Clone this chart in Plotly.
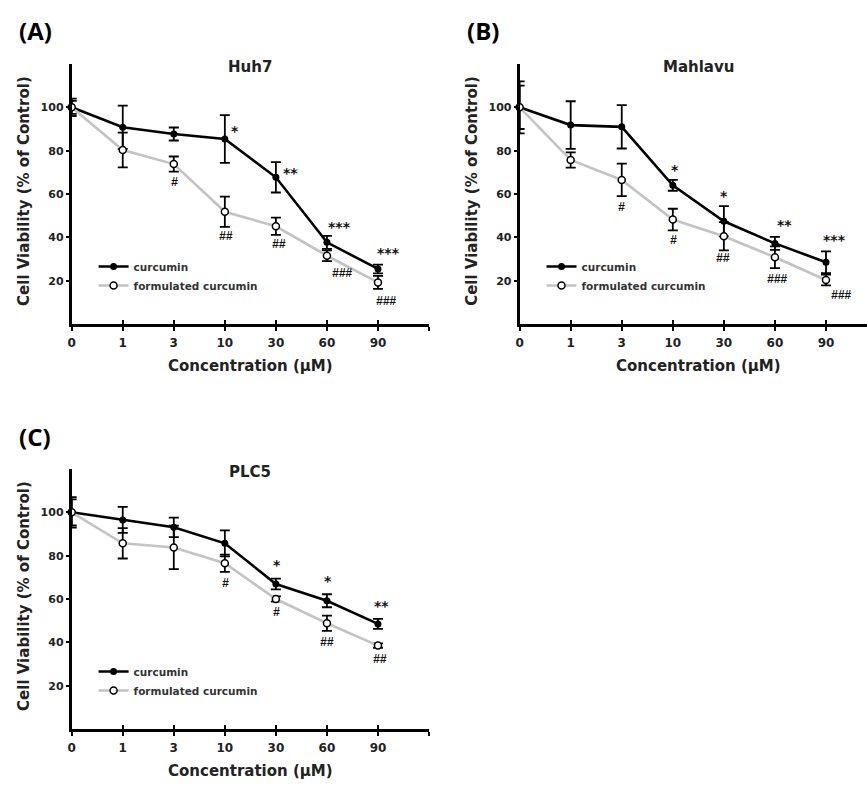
import plotly.graph_objects as go

W, H = 867, 787

conc_labels = ["0", "1", "3", "10", "30", "60", "90"]

huh7_cur = [100, 90.8, 87.7, 85.4, 67.7, 37.7, 25.4]
huh7_cur_err = [4, 10, 3, 11, 7, 3, 2]
huh7_form = [100, 80.3, 73.8, 51.8, 45.1, 31.5, 19.2]
huh7_form_err = [3, 8, 3.5, 7, 4, 2.5, 3]

mahlavu_cur = [100, 91.8, 91.0, 64.0, 47.4, 37.2, 28.5]
mahlavu_cur_err = [12, 11, 10, 2.5, 7, 3, 5]
mahlavu_form = [100, 75.7, 66.5, 48.2, 40.5, 30.8, 20.3]
mahlavu_form_err = [10, 3.5, 7.5, 5, 6.5, 5, 2.5]

plc5_cur = [100, 96.5, 93.1, 85.7, 66.9, 59.2, 48.5]
plc5_cur_err = [7, 6, 4.5, 6, 2.5, 3, 2.3]
plc5_form = [100, 85.7, 83.8, 76.5, 60.0, 48.8, 38.5]
plc5_form_err = [6, 7, 10, 4, 1.2, 3.5, 1]

# significance marks: (text, category position, y value)
huh7_marks_text = ["*", "**", "***", "***", "#", "##", "##", "###", "###"]
huh7_marks_x = [3.2, 4.28, 5.25, 6.2, 2.02, 3.03, 4.06, 5.29, 6.16]
huh7_marks_y = [89, 69.5, 45, 33, 65.4, 40.8, 37, 23.4, 10.8]

mahlavu_marks_text = ["*", "*", "**", "***", "#", "#", "##", "###", "###"]
mahlavu_marks_x = [3.04, 4.0, 5.19, 6.16, 2.0, 3.01, 3.99, 5.04, 6.29]
mahlavu_marks_y = [71, 59, 45.8, 39, 53.8, 38.8, 30.5, 20.8, 13.4]

plc5_marks_text = ["*", "*", "**", "#", "#", "##", "##"]
plc5_marks_x = [4.02, 5.03, 6.07, 3.02, 4.02, 5.01, 6.03]
plc5_marks_y = [75.8, 68.5, 56.9, 67.2, 53.8, 40, 32.3]

y_tick_vals = [20, 40, 60, 80, 100]
series_names = ["curcumin", "formulated curcumin"]
panel_titles = ["Huh7", "Mahlavu", "PLC5"]
panel_letters = ["(A)", "(B)", "(C)"]
y_title = "Cell Viability (% of Control)"
x_title = "Concentration (\u03bcM)"


def px(x):
    return x / W


def py(y):
    return 1 - y / H


FONT = "DejaVu Sans"
GRAY = "#c3c3c3"

fig = go.Figure()

panels = [
    dict(xl=68, xr=427, yt=64, yb=324, xmax=7.0),
    dict(xl=518, xr=867, yt=64, yb=324, xmax=(867 - 518) / 51.3),
    dict(xl=68, xr=427, yt=469, yb=729, xmax=7.0),
]

data = [
    (huh7_cur, huh7_cur_err, huh7_form, huh7_form_err, huh7_marks_text, huh7_marks_x, huh7_marks_y),
    (mahlavu_cur, mahlavu_cur_err, mahlavu_form, mahlavu_form_err, mahlavu_marks_text, mahlavu_marks_x, mahlavu_marks_y),
    (plc5_cur, plc5_cur_err, plc5_form, plc5_form_err, plc5_marks_text, plc5_marks_x, plc5_marks_y),
]

xidx = list(range(len(conc_labels)))
annotations = []

for i, (p, d) in enumerate(zip(panels, data)):
    n = i + 1
    xa = "x" if n == 1 else f"x{n}"
    ya = "y" if n == 1 else f"y{n}"
    lg = "legend" if n == 1 else f"legend{n}"
    cur, cur_err, form, form_err, mt, mx, my = d

    fig.add_trace(go.Scatter(
        x=xidx, y=cur, mode="lines+markers", name=series_names[0],
        line=dict(color="black", width=2.6),
        marker=dict(symbol="circle", size=7, color="black"),
        error_y=dict(type="data", array=cur_err, color="black", thickness=1.8, width=5),
        xaxis=xa, yaxis=ya, legend=lg, cliponaxis=False,
    ))
    fig.add_trace(go.Scatter(
        x=xidx, y=form, mode="lines+markers", name=series_names[1],
        line=dict(color=GRAY, width=2.6),
        marker=dict(symbol="circle", size=7, color="white", line=dict(color="black", width=1.5)),
        error_y=dict(type="data", array=form_err, color="black", thickness=1.8, width=5),
        xaxis=xa, yaxis=ya, legend=lg, cliponaxis=False,
    ))
    ox = f"x{n + 3}"
    fig.add_trace(go.Scatter(x=[None], y=[None], xaxis=ox, yaxis=ya, showlegend=False,
                             hoverinfo="skip"))

    xdom = [px(p["xl"]), min(1.0, px(p["xr"]))]
    ydom = [py(p["yb"]), py(p["yt"])]
    ticks_all = list(range(8))
    ticktext_all = conc_labels + [""]
    xkey = "xaxis" if n == 1 else f"xaxis{n}"
    ykey = "yaxis" if n == 1 else f"yaxis{n}"
    fig.layout[xkey] = dict(
        domain=xdom, range=[0, p["xmax"]], anchor=ya,
        tickmode="array", tickvals=ticks_all, ticktext=ticktext_all,
        ticks="outside", ticklen=4, tickwidth=1.5, tickcolor="black",
        showline=True, linecolor="black", linewidth=2.8,
        showgrid=False, zeroline=False,
        tickfont=dict(family=FONT, size=12, color="#222", weight="bold"),
        ticklabelstandoff=2,
    )
    fig.layout[f"xaxis{n + 3}"] = dict(
        overlaying=xa, anchor=ya, range=[0, p["xmax"]],
        tickmode="array", tickvals=ticks_all,
        ticks="inside", ticklen=4, tickwidth=1.5, tickcolor="black",
        showticklabels=False, showline=False, showgrid=False, zeroline=False,
    )
    fig.layout[ykey] = dict(
        domain=ydom, range=[0, 120], anchor=xa,
        tickmode="array", tickvals=y_tick_vals,
        ticks="outside", ticklen=3, tickwidth=1.5, tickcolor="black",
        showline=True, linecolor="black", linewidth=2.8,
        showgrid=False, zeroline=False,
        tickfont=dict(family=FONT, size=11, color="#222", weight="bold"),
    )

    fig.layout[lg] = dict(
        x=px(p["xl"] + 22), y=py(p["yb"] - 72), xanchor="left", yanchor="top",
        bgcolor="rgba(0,0,0,0)", tracegroupgap=0, itemwidth=30,
        font=dict(family=FONT, size=10.5, color="#333", weight="bold"),
    )

    for t, x, y in zip(mt, mx, my):
        is_star = t.startswith("*")
        annotations.append(dict(
            x=x, y=y, xref=xa, yref=ya, text=t, showarrow=False,
            font=dict(family=FONT if is_star else "Liberation Sans", size=14 if is_star else 12,
                      color="#111", weight="bold",
                      style="normal" if is_star else "italic"),
            xanchor="center", yanchor="middle",
        ))

    xc = (p["xl"] + p["xl"] + 359) / 2
    annotations.append(dict(
        x=px(xc), y=py(p["yt"] + 3), xref="paper", yref="paper", text=panel_titles[i],
        showarrow=False, xanchor="center", yanchor="middle",
        font=dict(family=FONT, size=15, color="#222", weight="bold"),
    ))
    annotations.append(dict(
        x=px(p["xl"] - 55), y=py(p["yt"] - 33), xref="paper", yref="paper",
        text=panel_letters[i], showarrow=False, xanchor="left", yanchor="middle",
        font=dict(family="Open Sans", size=24, color="black", weight="bold"),
    ))
    annotations.append(dict(
        x=px(xc), y=py(p["yb"] + 42), xref="paper", yref="paper", text=x_title,
        showarrow=False, xanchor="center", yanchor="middle",
        font=dict(family=FONT, size=15, color="#222", weight="bold"),
    ))
    annotations.append(dict(
        x=px(p["xl"] - 48), y=py((p["yt"] + p["yb"]) / 2 - 3), xref="paper", yref="paper",
        text=y_title, textangle=-90,
        showarrow=False, xanchor="center", yanchor="middle",
        font=dict(family=FONT, size=15, color="#222", weight="bold"),
    ))

fig.update_layout(
    width=W, height=H, margin=dict(l=0, r=0, t=0, b=0),
    paper_bgcolor="white", plot_bgcolor="white",
    annotations=annotations, showlegend=True,
)

fig.write_html(
    "out.html",
    config={"displayModeBar": False},
    post_script="document.body.style.margin='0';document.body.style.padding='0';",
)
